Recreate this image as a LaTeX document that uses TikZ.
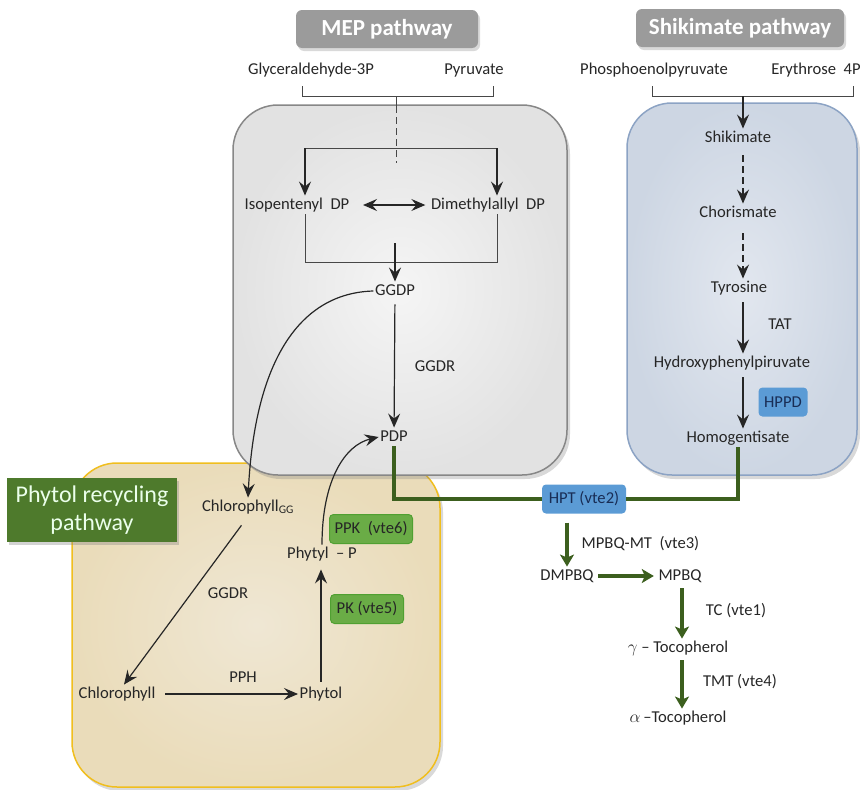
\documentclass[tikz,border=0pt]{standalone}
\usepackage{fontspec}
\setmainfont{Carlito}
\usetikzlibrary{arrows.meta,positioning,shadows}
\definecolor{txtdark}{RGB}{38,38,38}
\definecolor{headgray}{RGB}{155,155,155}
\definecolor{mepin}{RGB}{245,245,245}
\definecolor{mepout}{RGB}{226,226,226}
\definecolor{mepedge}{RGB}{135,135,135}
\definecolor{shikin}{RGB}{226,231,239}
\definecolor{shikout}{RGB}{205,214,227}
\definecolor{shikedge}{RGB}{140,163,196}
\definecolor{recin}{RGB}{239,231,212}
\definecolor{recout}{RGB}{234,220,186}
\definecolor{recedge}{RGB}{240,190,30}
\definecolor{recgreen}{RGB}{78,122,44}
\definecolor{tagblue}{RGB}{91,155,213}
\definecolor{tagbluetext}{RGB}{25,45,85}
\definecolor{taggreen}{RGB}{106,172,70}
\definecolor{taggreenedge}{RGB}{80,160,50}
\definecolor{pathgreen}{RGB}{60,95,30}
\newcommand{\labsize}{\fontsize{16.6}{19}\selectfont}
\newcommand{\headsize}{\fontsize{23}{27}\selectfont}
\newcommand{\tagsize}{\fontsize{24}{28}\selectfont}

\begin{document}
\begin{tikzpicture}[
    x=1pt, y=-1pt,
    chem/.style={font=\labsize, text=txtdark, inner sep=1.5pt, text height=12pt, text depth=3.5pt},
    enzyme/.style={font=\labsize, text=txtdark, inner sep=1.5pt},
    heading/.style={fill=headgray, rounded corners=6pt, minimum height=38pt, text=white, font=\headsize\bfseries, drop shadow={shadow xshift=2pt, shadow yshift=-3pt, opacity=0.3}},
    zone/.style={rounded corners=45pt, line width=1.5pt, drop shadow={shadow xshift=3pt, shadow yshift=-4pt, opacity=0.3}},
    rectag/.style={fill=recgreen, text=white!92!green, font=\tagsize, align=center, minimum width=170pt, minimum height=64pt, drop shadow={shadow xshift=2pt, shadow yshift=-3pt, opacity=0.35}},
    bluetag/.style={fill=tagblue, rounded corners=4pt, font=\labsize, text=tagbluetext, minimum height=29pt, inner xsep=3pt},
    greentag/.style={fill=taggreen, draw=taggreenedge, line width=1pt, rounded corners=4pt, font=\labsize, text=txtdark, minimum height=29pt, inner xsep=3pt},
    thinline/.style={line width=1pt, draw=txtdark!85},
    arr/.style={-{Stealth[length=14pt, width=12pt, inset=5pt]}, line width=1.2pt, draw=txtdark},
    dsh/.style={dash pattern=on 7pt off 4pt},
    gline/.style={line width=3.5pt, draw=pathgreen},
    garr/.style={gline, -{Stealth[length=12pt, width=14pt, inset=3pt]}}
]
    \useasboundingbox (0,0) rectangle (860,790);

    % compartments
    \node[zone, draw=recedge, inner color=recin, outer color=recout, minimum width=368, minimum height=324] (recbox) at (256,625) {};
    \node[zone, draw=mepedge, inner color=mepin, outer color=mepout, minimum width=334, minimum height=370] (mepbox) at (400,290) {};
    \node[zone, draw=shikedge, inner color=shikin, outer color=shikout, minimum width=230, minimum height=372] (shikbox) at (742,289) {};

    \node[heading, minimum width=182] (mephead) at (387,29) {MEP pathway};
    \node[heading, minimum width=208] (shikhead) at (740,28) {Shikimate pathway};
    \node[rectag] (rechead) at (92,510) {Phytol recycling\\pathway};

    % precursors
    \node[chem] (g3p) at (311,70) {Glyceraldehyde-3P};
    \node[chem] (pyr) at (474,70) {Pyruvate};
    \node[chem] (pep) at (654,70) {Phosphoenolpyruvate};
    \node[chem] (e4p) at (816,70) {Erythrose\ \ 4P};

    \coordinate (mepL) at (302,86);
    \coordinate (mepR) at (493,86);
    \coordinate (mepM) at (396,96);
    \coordinate (mepD) at (396,163);
    \draw[thinline] (mepL) -- ++(0,10) -| (mepR);
    \draw[thinline] (mepM) -- ++(0,10);
    \draw[thinline, dsh] (mepM) ++(0,10) -- (mepD);

    \coordinate (shikL) at (652,86);
    \coordinate (shikR) at (853,86);
    \coordinate (shikM) at (743,96);
    \coordinate (scol) at (743,0);
    \draw[thinline] (shikL) -- ++(0,10) -| (shikR);

    % MEP pathway
    \node[chem] (ipp) at (297,205) {Isopentenyl\ \ DP};
    \node[chem] (dmapp) at (488,205) {Dimethylallyl\ \ DP};
    \node[chem] (ggdp) at (395,291) {GGDP};
    \node[chem] (pdp) at (394,437) {PDP};
    \node[enzyme] (ggdrA) at (435,366) {GGDR};

    \coordinate (splitL) at (305,148);
    \coordinate (splitR) at (497,148);
    \coordinate (joinL) at (305,262);
    \coordinate (joinR) at (497,262);
    \coordinate (joinM) at (395,243);
    \draw[thinline] (splitL) -- (splitR);
    \draw[arr] (splitL) -- (splitL |- ipp.north);
    \draw[arr] (splitR) -- (splitR |- dmapp.north);
    \draw[arr, {Stealth[length=14pt, width=12pt, inset=5pt]}-{Stealth[length=14pt, width=12pt, inset=5pt]}, shorten <=12pt, shorten >=4pt] (ipp.east) -- (dmapp.west);
    \draw[thinline] (splitL |- ipp.south) -- (joinL) -- (joinR) -- (splitR |- dmapp.south);
    \draw[arr] (joinM) -- (ggdp.north);
    \draw[arr, shorten <=4pt] (ggdp) -- (pdp);

    % shikimate pathway
    \node[chem] (shik) at (738,138) {Shikimate};
    \node[chem] (chor) at (738,213) {Chorismate};
    \node[chem] (tyr) at (739,288) {Tyrosine};
    \node[chem] (hpp) at (732,363) {Hydroxyphenylpiruvate};
    \node[chem] (hga) at (738,438) {Homogentisate};
    \node[enzyme] (tat) at (780,324) {TAT};
    \node[bluetag, minimum width=49] (hppd) at (783,402) {HPPD};

    \draw[arr] (shikM) -- (scol |- shik.north);
    \draw[arr, dsh, shorten <=8pt] (scol |- shik.south) -- (scol |- chor.north);
    \draw[arr, dsh, shorten <=11pt] (scol |- chor.south) -- (scol |- tyr.north);
    \draw[arr, shorten <=5pt] (scol |- tyr.south) -- (scol |- hpp.north);
    \draw[arr, shorten <=5pt] (scol |- hpp.south) -- (scol |- hga.north);

    % tocopherol branch
    \node[bluetag, minimum width=84] (hpt) at (584,499) {HPT (vte2)};
    \node[chem] (dmpbq) at (567,576) {DMPBQ};
    \node[chem] (mpbq) at (680,576) {MPBQ};
    \node[chem] (gtoc) at (678,648) {$\gamma$ – Tocopherol};
    \node[chem] (atoc) at (678,718) {$\alpha$\,–Tocopherol};
    \node[enzyme, anchor=west] (mpbqmt) at (580,544) {MPBQ-MT\ \ (vte3)};
    \node[enzyme] (tc) at (736,611) {TC (vte1)};
    \node[enzyme] (tmt) at (740,682) {TMT (vte4)};
    \coordinate (tcol) at (682,0);

    \draw[gline] (pdp.south) |- (hpt.west);
    \draw[gline] (hga.south) |- (hpt.east);
    \draw[garr, shorten <=9pt] (hpt.south -| dmpbq.north) -- (dmpbq.north);
    \draw[garr, shorten <=3pt, shorten >=3pt] (dmpbq) -- (mpbq);
    \draw[garr, shorten <=3pt] (tcol |- mpbq.south) -- (tcol |- gtoc.north);
    \draw[garr, shorten <=3pt] (tcol |- gtoc.south) -- (tcol |- atoc.north);

    % phytol recycling
    \node[chem] (chlgg) at (248,507) {Chlorophyll\textsubscript{GG}};
    \node[chem] (chl) at (117,694) {Chlorophyll};
    \node[chem] (phytol) at (321,694) {Phytol};
    \node[chem] (phytylp) at (322,554) {Phytyl\ \ – P};
    \node[enzyme] (ggdrB) at (228,593) {GGDR};
    \node[enzyme] (pph) at (243,677) {PPH};
    \node[greentag, minimum width=83] (ppk) at (371,529) {PPK\ \ (vte6)};
    \node[greentag, minimum width=73] (pk) at (367,609) {PK (vte5)};

    \draw[arr, shorten <=11pt] (chlgg.south) -- ([xshift=7pt]chl.north);
    \draw[arr, shorten <=8pt] (chl) -- (phytol);
    \draw[arr, shorten <=3pt, shorten >=6pt] (phytol.north) -- (phytol.north |- phytylp.south);
    \draw[arr] (phytylp.north) .. controls (322,480) and (345,445) .. (pdp.west);
    \draw[arr] (ggdp.west) .. controls (300,293) and (255,360) .. (chlgg.north);
\end{tikzpicture}
\end{document}
